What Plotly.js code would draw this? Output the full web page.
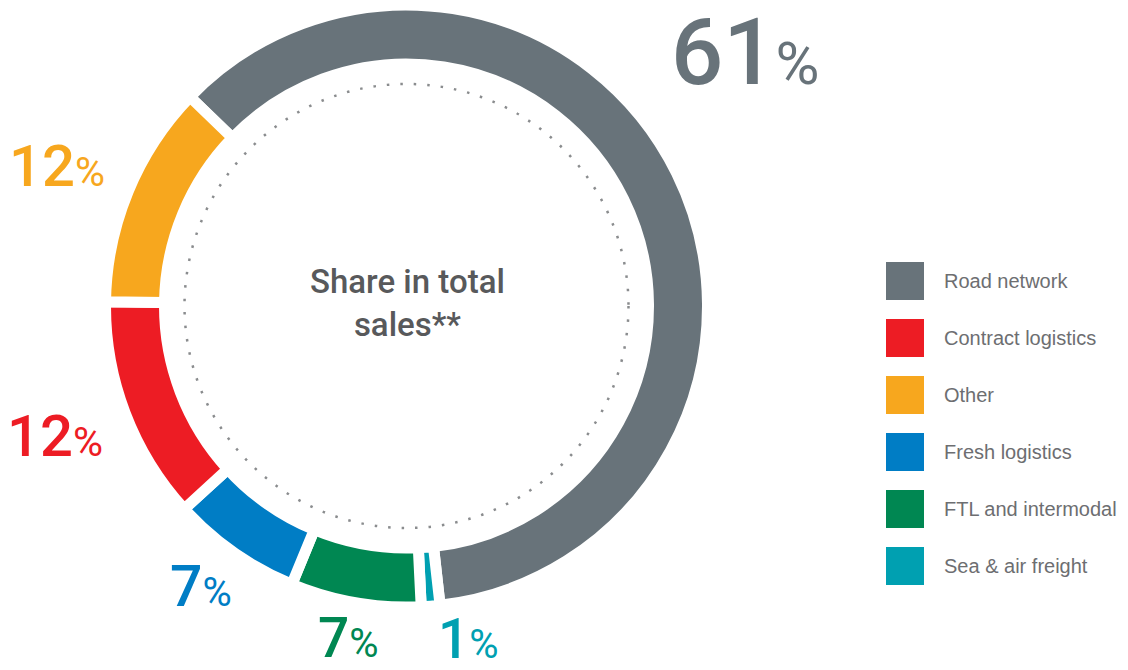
<!DOCTYPE html>
<html>
<head>
<meta charset="utf-8">
<script src="https://cdn.plot.ly/plotly-3.0.1.min.js"></script>
<style>html,body{margin:0;padding:0;background:#fff;}#chart{width:1128px;height:670px;}</style>
</head>
<body>
<div id="chart"></div>
<script>
// ---- data ----
const categories = ['Road network', 'Sea & air freight', 'FTL and intermodal', 'Fresh logistics', 'Contract logistics', 'Other'];
const shares = [61, 1, 7, 7, 12, 12];
const sliceColors = ['#68737a', '#00a0b1', '#008752', '#007dc5', '#ed1c24', '#f7a71e'];
const legendOrder = ['Road network', 'Contract logistics', 'Other', 'Fresh logistics', 'FTL and intermodal', 'Sea & air freight'];
const centerTitle = 'Share in total<br>sales**';

// ---- layout helpers (pixel -> paper) ----
const W = 1128, H = 670;
const px = x => x / W;
const py = y => 1 - y / H;
const cx = 406.5, cy = 306, R = 301;

// label placement (left edge x, vertical centre y, big size, % size) in pie order
const labelPos = [
  {x: 669, y: 53, s: 92, p: 60},
  {x: 436, y: 639, s: 55, p: 40},
  {x: 316, y: 638, s: 55, p: 40},
  {x: 168, y: 586, s: 57, p: 40},
  {x: 5, y: 436, s: 58, p: 41},
  {x: 7, y: 166, s: 58, p: 41}
];

const esc = s => s.replace(/&/g, '&amp;');
const fontFam = '"Liberation Sans", Arial, Helvetica, sans-serif';
const numFam = 'Roboto, "Liberation Sans", Arial, sans-serif';

const annotations = [];
const shapes = [];

// value labels
categories.forEach((c, i) => {
  const lp = labelPos[i];
  annotations.push({
    xref: 'paper', yref: 'paper', x: px(lp.x), y: py(lp.y),
    xanchor: 'left', yanchor: 'middle', showarrow: false,
    text: shares[i] + '<span style="font-size:' + lp.p + 'px;font-weight:400">%</span>',
    font: {family: numFam, size: lp.s, color: sliceColors[i], weight: 500}
  });
});

// centre text
annotations.push({
  xref: 'paper', yref: 'paper', x: px(407), y: py(303),
  xanchor: 'center', yanchor: 'middle', showarrow: false,
  text: centerTitle,
  font: {family: numFam, size: 33, color: '#58595b', weight: 500}
});

// dotted inner circle
const rd = 222;
shapes.push({
  type: 'circle', xref: 'paper', yref: 'paper',
  x0: px(cx - rd), x1: px(cx + rd), y0: py(cy + rd), y1: py(cy - rd),
  line: {color: '#8a8c8e', width: 2.5, dash: '2.5px,11px'}
});

// custom legend
legendOrder.forEach((name, k) => {
  const i = categories.indexOf(name);
  const yc = 281 + k * 57;
  shapes.push({
    type: 'rect', xref: 'paper', yref: 'paper',
    x0: px(886), x1: px(924), y0: py(yc + 19), y1: py(yc - 19),
    fillcolor: sliceColors[i], line: {width: 0}
  });
  annotations.push({
    xref: 'paper', yref: 'paper', x: px(942), y: py(yc),
    xanchor: 'left', yanchor: 'middle', showarrow: false,
    text: esc(name),
    font: {family: fontFam, size: 20, color: '#6d6e71'}
  });
});

const trace = {
  type: 'pie',
  labels: categories,
  values: shares,
  sort: false,
  direction: 'clockwise',
  rotation: -46,
  hole: 0.804,
  textinfo: 'none',
  hoverinfo: 'label+percent',
  marker: {colors: sliceColors, line: {color: '#ffffff', width: 11}},
  domain: {x: [px(cx - R), px(cx + R)], y: [py(cy + R), py(cy - R)]},
  showlegend: false
};

const layout = {
  width: W, height: H,
  margin: {l: 0, r: 0, t: 0, b: 0},
  paper_bgcolor: '#ffffff',
  plot_bgcolor: '#ffffff',
  showlegend: false,
  annotations: annotations,
  shapes: shapes
};

Plotly.newPlot('chart', [trace], layout, {displayModeBar: false, staticPlot: true});
</script>
</body>
</html>
